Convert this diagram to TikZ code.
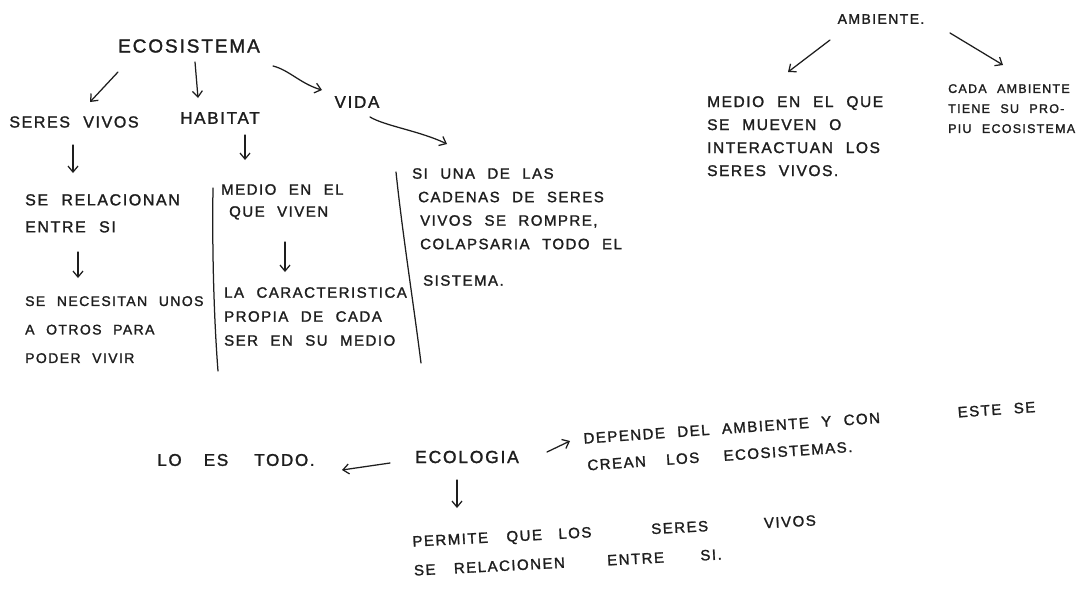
\documentclass[tikz,border=0pt]{standalone}
\usepackage{fontspec}
\newfontfamily\hand[LetterSpace=10,WordSpace=2.2,FakeBold=1.5]{Liberation Sans}
\usetikzlibrary{arrows.meta,calc}
\definecolor{ink}{HTML}{1E1E1E}
\begin{document}
\begin{tikzpicture}[x=1pt,y=-1pt,
  lbl/.style={font=\fontsize{#1}{18}\hand, text=ink, inner sep=0pt},
  blk/.style={font=\fontsize{15}{#1}\hand, text=ink, inner sep=0pt, align=left, anchor=north west},
  sblk/.style={font=\fontsize{12.5}{#1}\hand, text=ink, inner sep=0pt, align=left, anchor=north west},
  arr/.style={draw=ink, line width=1.25pt, line cap=round, line join=round, -{Straight Barb[length=6pt,width=10pt]}},
  sep/.style={draw=ink, line width=1.25pt, line cap=round}]
\useasboundingbox[fill=white] (0,0) rectangle (1086,592);

% left tree
\node[lbl=19] (eco) at (189,46) {ECOSISTEMA};
\node[lbl=16] (seres) at (74,122) {SERES VIVOS};
\node[lbl=17] (habitat) at (220,118) {HABITAT};
\node[lbl=17] (vida) at (357,102) {VIDA};

\node[blk=27, font=\fontsize{16}{27}\hand] (rel) at (25,194) {SE RELACIONAN\\ENTRE SI};
\node[blk=28.5, font=\fontsize{14}{28.5}\hand] (nec) at (25,296) {SE NECESITAN UNOS\\A OTROS PARA\\PODER VIVIR};
\node[blk=22] (medio) at (221,184) {MEDIO EN EL\\\hspace*{8pt}QUE VIVEN};
\node[blk=24] (carac) at (224,287) {LA CARACTERISTICA\\PROPIA DE CADA\\SER EN SU MEDIO};
\node[blk=23.5] (si) at (412,168) {SI UNA DE LAS\\\hspace*{6pt}CADENAS DE SERES\\\hspace*{8pt}VIVOS SE ROMPRE,\\\hspace*{8pt}COLAPSARIA TODO EL\\[13pt]\hspace*{11pt}SISTEMA.};

\draw[arr] ($(eco)+(-71,26)$) -- ($(seres)+(16,-20)$);
\draw[arr] ($(eco)+(6,16)$) -- ($(habitat)+(-22,-20)$);
\draw[arr] ($(eco)+(84,20)$) .. controls ($(eco)+(100,24)$) and ($(eco)+(112,38)$) .. ($(vida)+(-35,-12)$);
\draw[arr] ($(vida)+(13,15)$) .. controls ($(vida)+(28,24)$) and ($(vida)+(63,29)$) .. ($(si.north west)+(35,-24)$);
\draw[arr] ($(seres)+(-1,23)$) -- ($(rel.north west)+(48,-21)$);
\draw[arr] ($(habitat)+(25,17)$) -- ($(medio.north west)+(24,-24)$);
\draw[arr] ($(rel.north west)+(53,58)$) -- ($(nec.north west)+(53,-18)$);
\draw[arr] ($(medio.north west)+(64,58)$) -- ($(carac.north west)+(61,-15)$);

\draw[sep] (213,188) .. controls (212,250) and (214,320) .. (218,371);
\draw[sep] (396,172) .. controls (402,230) and (413,300) .. (421,363);

% ambiente
\node[lbl=14] (amb) at (881,19) {AMBIENTE.};
\node[blk=23, font=\fontsize{15.5}{23}\hand] (mueven) at (707,96) {MEDIO EN EL QUE\\SE MUEVEN O\\INTERACTUAN LOS\\SERES VIVOS.};
\node[sblk=20] (cada) at (948,84) {CADA AMBIENTE\\TIENE SU PRO-\\PIU ECOSISTEMA};
\draw[arr] ($(amb)+(-51,21)$) -- ($(mueven.north west)+(81,-24)$);
\draw[arr] ($(amb)+(69,14)$) -- ($(cada.north west)+(55,-19)$);

% ecologia
\node[lbl=17.5] (ecol) at (467,457) {ECOLOGIA};
\node[lbl=17] (todo) at (236,460) {LO\hspace{8pt} ES\hspace{12pt} TODO.};
\node[blk=27, rotate=4] (dep) at (583,433) {DEPENDE DEL AMBIENTE Y CON\hspace{78pt}ESTE SE\\\hspace*{2pt}CREAN\hspace{8pt} LOS\hspace{12pt} ECOSISTEMAS.};
\node[blk=29, rotate=3] (perm) at (412,536) {PERMITE\hspace{6pt} QUE\hspace{4pt} LOS\hspace{60pt}SERES\hspace{56pt}VIVOS\\SE\hspace{6pt} RELACIONEN\hspace{30pt} ENTRE\hspace{24pt} SI.};

\draw[arr] ($(ecol)+(-77,6)$) -- ($(todo)+(106,10)$);
\draw[arr] ($(ecol)+(80,-5)$) -- ($(dep.north west)+(-13,8)$);
\draw[arr] ($(ecol)+(-10,23)$) -- ($(perm.north west)+(45,-28)$);
\end{tikzpicture}
\end{document}
